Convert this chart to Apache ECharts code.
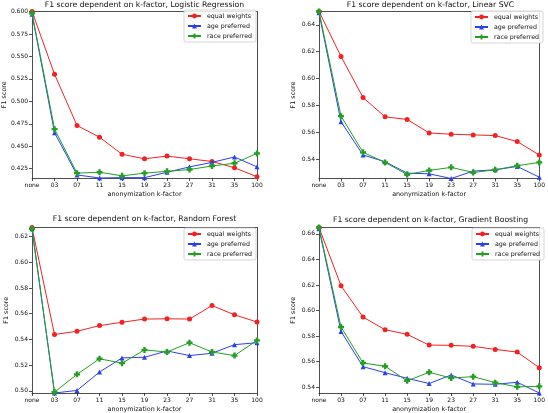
<!DOCTYPE html>
<html><head><meta charset="utf-8">
<script src="https://cdn.jsdelivr.net/npm/echarts@6/dist/echarts.min.js"></script>
<style>html,body{margin:0;padding:0;background:#fff}#c{width:548px;height:413px}</style>
</head><body><div id="c"></div>
<script>
const categories = ['none','03','07','11','15','19','23','27','31','35','100'];
const seriesNames = ['equal weights','age preferred','race preferred'];
const titles = ['F1 score dependent on k-factor, Logistic Regression','F1 score dependent on k-factor, Linear SVC','F1 score dependent on k-factor, Random Forest','F1 score dependent on k-factor, Gradient Boosting'];

const lrEqual = [0.600, 0.530, 0.473, 0.460, 0.441, 0.436, 0.439, 0.436, 0.433, 0.426, 0.416];
const lrAge   = [0.597, 0.465, 0.418, 0.4146, 0.415, 0.415, 0.421, 0.427, 0.432, 0.438, 0.427];
const lrRace  = [0.598, 0.469, 0.420, 0.421, 0.417, 0.420, 0.422, 0.424, 0.428, 0.431, 0.442];

const svcEqual = [0.650, 0.6165, 0.5858, 0.5715, 0.5695, 0.5595, 0.5585, 0.558, 0.5575, 0.553, 0.543];
const svcAge   = [0.649, 0.5678, 0.543, 0.538, 0.5295, 0.529, 0.5255, 0.531, 0.532, 0.5345, 0.5265];
const svcRace  = [0.650, 0.572, 0.545, 0.5375, 0.5285, 0.5315, 0.5338, 0.530, 0.532, 0.535, 0.5375];

const rfEqual = [0.627, 0.5438, 0.5463, 0.5507, 0.5533, 0.5558, 0.556, 0.5558, 0.5663, 0.5591, 0.5535];
const rfAge   = [0.626, 0.4983, 0.5003, 0.5146, 0.5256, 0.5261, 0.531, 0.5274, 0.5292, 0.5359, 0.5374];
const rfRace  = [0.626, 0.499, 0.5128, 0.5249, 0.5215, 0.5318, 0.5302, 0.5374, 0.5302, 0.5274, 0.5392];

const gbEqual = [0.665, 0.6194, 0.5949, 0.585, 0.5814, 0.573, 0.5728, 0.572, 0.5696, 0.5675, 0.5553];
const gbAge   = [0.664, 0.5837, 0.5561, 0.5514, 0.547, 0.5429, 0.5496, 0.5426, 0.5423, 0.5439, 0.5355];
const gbRace  = [0.665, 0.5871, 0.559, 0.5564, 0.545, 0.5517, 0.5472, 0.5483, 0.5436, 0.5403, 0.5407];

const lrTicks  = [0.425, 0.450, 0.475, 0.500, 0.525, 0.550, 0.575, 0.600];
const svcTicks = [0.54, 0.56, 0.58, 0.60, 0.62, 0.64];
const rfTicks  = [0.50, 0.52, 0.54, 0.56, 0.58, 0.60, 0.62];
const gbTicks  = [0.54, 0.56, 0.58, 0.60, 0.62, 0.64, 0.66];

const panels = [
  {data:[lrEqual, lrAge, lrRace], ticks: lrTicks, dec: 3},
  {data:[svcEqual, svcAge, svcRace], ticks: svcTicks, dec: 2},
  {data:[rfEqual, rfAge, rfRace], ticks: rfTicks, dec: 2},
  {data:[gbEqual, gbAge, gbRace], ticks: gbTicks, dec: 2}
];

const FONT = 'DejaVu Sans';
const colors = ['#f22222', '#2a40f0', '#22a022'];
const symbols = ['circle', 'triangle', 'path://M3,0H7V3H10V7H7V10H3V7H0V3H3Z'];
const symSizes = [5, 5, 6];
const grids = [
  {left: 32, top: 11.5, width: 225, height: 166.5},
  {left: 319, top: 11.5, width: 223, height: 167},
  {left: 32, top: 227.5, width: 225, height: 166},
  {left: 319, top: 227.5, width: 223, height: 166}
];
const titleY = [1.5, 1.5, 215.5, 216.5];
const legendPos = [
  {left: 184, top: 10}, {left: 471, top: 11}, {left: 184, top: 228}, {left: 472, top: 228}
];

const option = {
  animation: false,
  backgroundColor: '#fff',
  title: [], grid: [], xAxis: [], yAxis: [], series: [], legend: []
};
const frameLine = {show: true, onZero: false, lineStyle: {color: '#222', width: 0.8}};

panels.forEach((p, i) => {
  const g = grids[i];
  option.grid.push(Object.assign({show: false, containLabel: false}, g));
  option.title.push({
    text: titles[i], left: g.left + g.width / 2, top: titleY[i], textAlign: 'center', padding: 0,
    textStyle: {fontFamily: FONT, fontSize: 7.7, fontWeight: 'normal', color: '#111'}
  });
  option.xAxis.push({
    type: 'category', gridIndex: i, data: categories, boundaryGap: false,
    name: 'anonymization k-factor', nameLocation: 'middle', nameGap: 13,
    nameTextStyle: {fontFamily: FONT, fontSize: 6.4, color: '#111'},
    axisLine: frameLine,
    axisTick: {show: true, inside: false, length: 3, alignWithLabel: true, lineStyle: {color: '#222', width: 0.8}},
    axisLabel: {fontFamily: FONT, fontSize: 6, color: '#111', margin: 4, interval: 0},
    splitLine: {show: false}
  });
  option.xAxis.push({
    type: 'category', gridIndex: i, data: categories, boundaryGap: false, position: 'top',
    axisLine: frameLine, axisTick: {show: false}, axisLabel: {show: false}, splitLine: {show: false}
  });
  option.yAxis.push({
    type: 'value', gridIndex: i, min: 'dataMin', max: 'dataMax', scale: true,
    name: 'F1 score', nameLocation: 'middle', nameGap: 23, nameRotate: 90,
    nameTextStyle: {fontFamily: FONT, fontSize: 6.4, color: '#111'},
    axisLine: frameLine,
    axisTick: {show: true, inside: false, length: 3, customValues: p.ticks, lineStyle: {color: '#222', width: 0.8}},
    axisLabel: {fontFamily: FONT, fontSize: 6, color: '#111', margin: 4, customValues: p.ticks,
      formatter: v => Number(v).toFixed(p.dec)},
    splitLine: {show: false}
  });
  option.yAxis.push({
    type: 'value', gridIndex: i, min: 'dataMin', max: 'dataMax', scale: true, position: 'right',
    axisLine: frameLine, axisTick: {show: false}, axisLabel: {show: false}, splitLine: {show: false}
  });
  p.data.forEach((arr, s) => {
    option.series.push({
      type: 'line', name: seriesNames[s], xAxisIndex: 2 * i, yAxisIndex: 2 * i, data: arr,
      color: colors[s], symbol: symbols[s], symbolSize: symSizes[s], showSymbol: true,
      lineStyle: {width: 1, color: colors[s]}, itemStyle: {color: colors[s]}, z: 3 + s
    });
  });
  option.legend.push(Object.assign({
    data: seriesNames, orient: 'vertical', show: true,
    backgroundColor: 'rgba(255,255,255,0.85)', borderColor: '#ccc', borderWidth: 0.8, borderRadius: 2,
    padding: [3, 4, 3, 3], itemGap: 4, itemWidth: 13, itemHeight: 6,
    textStyle: {fontFamily: FONT, fontSize: 6.3, color: '#111', padding: [0, 0, 0, 1]},
    selectedMode: false
  }, legendPos[i]));
});

const chart = echarts.init(document.getElementById('c'), null, {renderer: 'canvas'});
chart.setOption(option);
</script>
</body></html>
